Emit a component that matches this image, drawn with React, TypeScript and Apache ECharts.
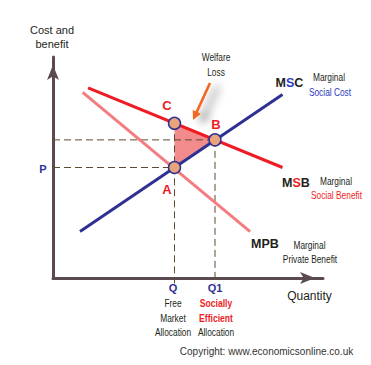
import React, { useEffect, useRef } from 'react';
import * as echarts from 'echarts';

// Curve end points (quantity, cost/benefit) in abstract units
const msbLine = [[1.3, 8.6], [8.5, 5.0]];
const mpbLine = [[1.1, 8.4], [7.3, 2.1]];
const mscLine = [[1.0, 2.1], [8.5, 8.3]];
// Key points C, A, B
const pointNames = ['C', 'A', 'B'];
const pointValues = [[4.5, 7], [4.5, 5], [6, 6.25]];
const axisDrop = -0.25;

const sans = '"Liberation Sans", Arial, sans-serif';
const dark = '#231f20';
const red = '#ed1c24';
const blue = '#2e3192';
const lightBlue = '#2b3bc4';

function txt(text: string, x: number, y: number, o: any = {}) {
  const narrow = o.family === undefined;
  return {
    type: 'text',
    x,
    y,
    z: 100,
    silent: true,
    scaleX: narrow ? (o.weight === 'bold' ? 0.78 : 0.76) : 1,
    style: {
      text,
      align: 'center',
      verticalAlign: 'middle',
      fontFamily: o.family || sans,
      fontSize: o.size || (narrow ? 11 : 10),
      fontWeight: o.weight || 'normal',
      fill: o.fill || dark,
      rich: o.rich,
    },
  };
}

export default function App() {
  const ref = useRef<HTMLDivElement>(null);
  useEffect(() => {
    document.body.style.margin = '0';
    const chart = echarts.init(ref.current!, null, { renderer: 'svg' });
    const [C, A, B] = pointValues;
    const dashedSegs = [
      [[0, B[1]], B],
      [[0, A[1]], A],
      [C, [C[0], axisDrop]],
      [B, [B[0], axisDrop]],
    ];
    const curve = (data: number[][], color: string) => ({
      type: 'line',
      data,
      symbol: 'none',
      clip: false,
      silent: true,
      z: 3,
      lineStyle: { color, width: 3 },
    });
    const boldRich = {
      k: { fill: dark, fontFamily: sans, fontSize: 12.5, fontWeight: 'bold' },
      b: { fill: lightBlue, fontFamily: sans, fontSize: 12.5, fontWeight: 'bold' },
      r: { fill: red, fontFamily: sans, fontSize: 12.5, fontWeight: 'bold' },
    };
    const arrowPts = [
      [211.2, 83.5], [198.0, 112.3], [200.9, 113.7], [193, 120],
      [192.7, 109.9], [195.6, 111.3], [208.8, 82.5],
    ];
    const axisLine = {
      show: true,
      onZero: false,
      symbol: ['none', 'arrow'],
      symbolSize: [9, 15],
      symbolOffset: [0, -8],
      lineStyle: { color: '#5b4a4f', width: 3 },
    };
    chart.setOption({
      animation: false,
      grid: { left: 53, top: 57, width: 270, height: 221 },
      xAxis: {
        type: 'value', min: 0, max: 10,
        axisLine,
        axisTick: { show: false }, axisLabel: { show: false }, splitLine: { show: false },
      },
      yAxis: {
        type: 'value', min: 0, max: 10,
        axisLine,
        axisTick: { show: false }, axisLabel: { show: false }, splitLine: { show: false },
      },
      series: [
        {
          type: 'custom',
          z: 1,
          silent: true,
          data: [pointValues[0]],
          renderItem: (_p: any, api: any) => ({
            type: 'polygon',
            shape: { points: pointValues.map((p) => api.coord(p)) },
            style: { fill: '#f28c8c' },
          }),
        },
        ...dashedSegs.map((d) => ({
          type: 'line',
          data: d,
          symbol: 'none',
          clip: false,
          silent: true,
          z: 2,
          lineStyle: { color: '#5c4b30', width: 1, type: [7, 4] },
        })),
        curve(mpbLine, '#f47c80'),
        curve(msbLine, '#ee1c25'),
        curve(mscLine, '#2e3192'),
        {
          type: 'scatter',
          z: 5,
          silent: true,
          data: pointValues.map((v, i) => ({ name: pointNames[i], value: v })),
          symbolSize: 12,
          itemStyle: { color: '#e8a47a', borderColor: '#2e3192', borderWidth: 1.5, opacity: 1 },
        },
      ],
      graphic: [
        txt('Cost and', 52, 30, { family: sans, size: 11 }),
        txt('benefit', 52, 44, { family: sans, size: 11 }),
        txt('Welfare', 216, 57),
        txt('Loss', 216, 72),
        {
          type: 'polygon',
          z: 90,
          silent: true,
          shape: { points: arrowPts },
          style: { fill: '#f26722', shadowColor: 'rgba(0,0,0,0.6)', shadowBlur: 10, shadowOffsetX: 8, shadowOffsetY: 3 },
        },
        txt('C', 167, 105, { family: sans, size: 13, weight: 'bold', fill: red }),
        txt('B', 216, 124, { family: sans, size: 13, weight: 'bold', fill: red }),
        txt('A', 167, 189, { family: sans, size: 13, weight: 'bold', fill: red }),
        txt('{k|M}{b|S}{k|C}', 289.5, 83, { family: sans, rich: boldRich }),
        txt('Marginal', 329, 77),
        txt('Social Cost', 330, 92, { fill: lightBlue }),
        txt('{k|M}{r|S}{k|B}', 296, 183, { family: sans, rich: boldRich }),
        txt('Marginal', 336, 181),
        txt('Social Benefit', 336.5, 195, { fill: red }),
        txt('MPB', 265, 244, { family: sans, size: 12.5, weight: 'bold' }),
        txt('Marginal', 309.5, 245),
        txt('Private Benefit', 310, 259),
        txt('Quantity', 309.5, 296, { family: sans, size: 12 }),
        txt('P', 43, 169, { family: sans, size: 11, weight: 'bold', fill: blue }),
        txt('Q', 173, 288, { family: sans, size: 11, weight: 'bold', fill: blue }),
        txt('Q1', 215, 288, { family: sans, size: 11, weight: 'bold', fill: blue }),
        txt('Free', 173, 303),
        txt('Market', 173, 318),
        txt('Allocation', 173, 332),
        txt('Socially', 216, 303, { weight: 'bold', fill: red }),
        txt('Efficient', 216, 318, { weight: 'bold', fill: red }),
        txt('Allocation', 216, 332),
        txt('Copyright: www.economicsonline.co.uk', 266.5, 351, { family: sans, size: 10, fill: '#333' }),
      ],
    });
    return () => chart.dispose();
  }, []);
  return <div ref={ref} style={{ width: 371, height: 365 }} />;
}
